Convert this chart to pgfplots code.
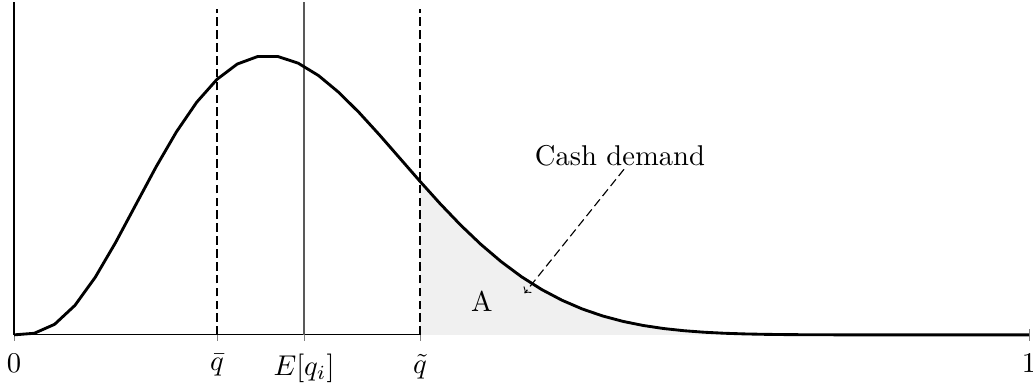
\documentclass[border=0pt]{standalone}
\usepackage{pgfplots}
\pgfplotsset{compat=1.18}

% density of q_i, sampled every 0.02
\pgfplotstableread{
x y
0.00 0
0.02 0.0191
0.04 0.1268
0.06 0.3540
0.08 0.6914
0.10 1.1080
0.12 1.5641
0.14 2.0195
0.16 2.4391
0.18 2.7958
0.20 3.0709
0.22 3.2545
0.24 3.3445
0.26 3.3448
0.28 3.2646
0.30 3.1161
0.32 2.9134
0.34 2.6712
0.36 2.4037
0.38 2.1244
0.40 1.8447
0.42 1.5740
0.44 1.3195
0.46 1.0869
0.48 0.8793
0.50 0.6982
0.52 0.5439
0.54 0.4153
0.56 0.3105
0.58 0.2269
0.60 0.1619
0.62 0.1126
0.64 0.0761
0.66 0.0499
0.68 0.0316
0.70 0.0193
0.72 0.0113
0.74 0.0063
0.76 0.0033
0.78 0.0016
0.80 0.0007
0.82 0.0003
0.84 0.0001
0.86 0
0.88 0
0.90 0
0.92 0
0.94 0
0.96 0
0.98 0
1.00 0
}\pdfdata

\begin{document}
\begin{tikzpicture}
\begin{axis}[
    scale only axis,
    width=354.9pt, height=116.4pt,
    xmin=0, xmax=1, ymin=0, ymax=4,
    axis lines=left,
    axis line style={-},
    xtick={0,0.2,0.2857,0.4,1},
    xticklabels={$0$,$\bar{q}$,$E[q_i]$,$\tilde{q}$,$1$},
    xticklabel style={yshift=-1pt},
    ytick=\empty,
    clip=false,
]
% shaded tail beyond q tilde
\addplot[fill=gray!12, draw=none, restrict x to domain=0.4:1] table {\pdfdata} \closedcycle;

% reference lines
\addplot[black, thin, dash pattern=on 3pt off 1.5pt] coordinates {(0.2,0) (0.2,3.92)};
\addplot[black, thin, dash pattern=on 3pt off 1.5pt] coordinates {(0.4,0) (0.4,3.92)};
\addplot[black!65, thin] coordinates {(0.2857,0) (0.2857,4)};

% density
\addplot[line width=1pt, black] table {\pdfdata};

\node at (axis cs:0.461,0.40) {A};
\node at (axis cs:0.597,2.15) {Cash demand};
\draw[->, thin, dash pattern=on 3pt off 1.5pt] (axis cs:0.601,1.99) -- (axis cs:0.503,0.50);
\end{axis}
\pgfresetboundingbox
\path (current axis.south west) ++(-4.9pt,-16.8pt)
    rectangle ([shift={(1.4pt,0.7pt)}]current axis.north east);
\end{tikzpicture}
\end{document}
